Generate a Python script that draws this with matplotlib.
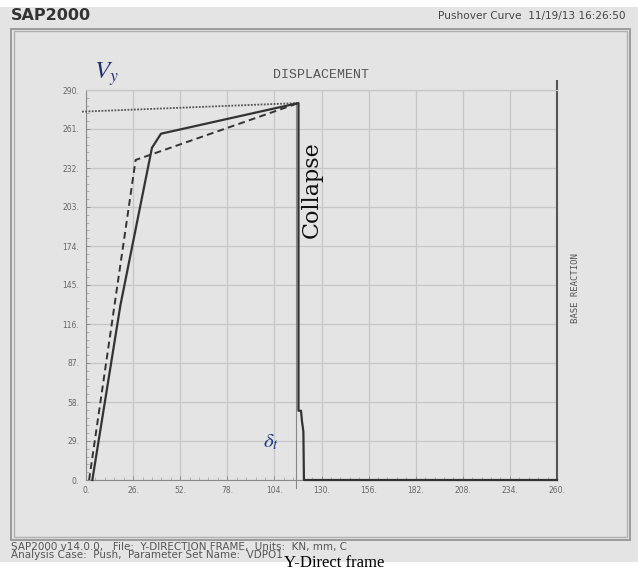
import matplotlib
matplotlib.use("Agg")
import matplotlib.pyplot as plt
from matplotlib.patches import Rectangle
from matplotlib.ticker import AutoMinorLocator

# ---- pushover curve data (displacement in mm, base reaction in KN) ----
solid_x = [3.5, 19.0, 36.4, 41.4, 117.3, 117.3, 118.7, 119.2, 120.0, 120.3, 260.0]
solid_y = [0.0, 130.0, 247.0, 257.5, 280.3, 51.5, 51.5, 44.0, 36.0, 0.0, 0.0]

bilinear_x = [1.7, 27.4, 117.3]
bilinear_y = [0.0, 238.0, 280.3]

yield_line_x = [-2.2, 117.3]
yield_line_y = [273.9, 280.3]

target_disp = 115.9

x_ticks = [0, 26, 52, 78, 104, 130, 156, 182, 208, 234, 260]
y_ticks = [0, 29, 58, 87, 116, 145, 174, 203, 232, 261, 290]
x_labels = [f"{v}." for v in x_ticks]
y_labels = [f"{v}." for v in y_ticks]

W, H = 638, 571
BG = "#e4e4e4"

fig = plt.figure(figsize=(W / 100, H / 100), dpi=100)
fig.patch.set_facecolor("white")


def fx(x):
    return x / W


def fy(y):
    return 1 - y / H


# window background and frame
fig.add_artist(Rectangle((0, fy(562)), 1, fy(7) - fy(562), transform=fig.transFigure,
                         facecolor=BG, edgecolor="none", zorder=0))
fig.add_artist(Rectangle((fx(10.5), fy(540)), fx(630) - fx(10.5), fy(28.5) - fy(540),
                         transform=fig.transFigure, facecolor="none",
                         edgecolor="#9c9c9c", lw=1.4, zorder=1))
fig.add_artist(Rectangle((fx(13.5), fy(537)), fx(627) - fx(13.5), fy(31.5) - fy(537),
                         transform=fig.transFigure, facecolor="none",
                         edgecolor="#b0b0b0", lw=1.0, zorder=1))

# header and footer text
fig.text(fx(11), fy(16), "SAP2000", fontsize=11.5, fontweight="bold",
         family="DejaVu Sans", color="#333333", va="center", ha="left")
fig.text(fx(626), fy(16), "Pushover Curve  11/19/13 16:26:50", fontsize=7.6,
         family="DejaVu Sans", color="#444444", va="center", ha="right")
fig.text(fx(11), fy(547), "SAP2000 v14.0.0,   File:  Y-DIRECTION FRAME,  Units:  KN, mm, C",
         fontsize=7.5, family="DejaVu Sans", color="#555555", va="center", ha="left")
fig.text(fx(11), fy(555.5), "Analysis Case:  Push,  Parameter Set Name:  VDPO1",
         fontsize=7.5, family="DejaVu Sans", color="#555555", va="center", ha="left")
fig.text(fx(334), fy(571), "Y-Direct frame", fontsize=12, family="Liberation Serif",
         color="black", va="bottom", ha="center")

# plot area
ax = fig.add_axes([fx(86), fy(480), fx(557) - fx(86), fy(90) - fy(480)])
ax.set_facecolor(BG)
ax.set_xlim(0, 260)
ax.set_ylim(0, 290)

ax.set_xticks(x_ticks)
ax.set_xticklabels(x_labels)
ax.set_yticks(y_ticks)
ax.set_yticklabels(y_labels)
ax.xaxis.set_minor_locator(AutoMinorLocator(5))
ax.yaxis.set_minor_locator(AutoMinorLocator(5))
ax.tick_params(axis="both", which="major", direction="in", length=3, width=0.6,
               color="#888888", labelsize=5.5, labelcolor="#666666")
ax.tick_params(axis="both", which="minor", direction="in", length=2.2, width=0.5,
               color="#999999")
ax.tick_params(axis="x", pad=4)
ax.tick_params(axis="y", pad=5)
ax.grid(True, which="major", color="#c6c6c6", lw=0.9)
ax.set_axisbelow(True)

for side in ("left", "bottom"):
    ax.spines[side].set_color("#8a8a8a")
    ax.spines[side].set_linewidth(0.8)
ax.spines["top"].set_color("#c6c6c6")
ax.spines["top"].set_linewidth(0.9)
ax.spines["right"].set_color("#555555")
ax.spines["right"].set_linewidth(1.5)
ax.plot([260, 260], [290, 297.5], color="#555555", lw=1.5, clip_on=False,
        solid_capstyle="butt")

# curves
ax.plot(yield_line_x, yield_line_y, color="#555555", lw=1.3, linestyle=(0, (1, 0.8)),
        clip_on=False, zorder=3)
ax.plot(bilinear_x, bilinear_y, color="#333333", lw=1.4, linestyle=(0, (3.5, 2.2)),
        zorder=4)
ax.plot([target_disp, target_disp], [280.0, -6.0], color="#888888", lw=0.8,
        clip_on=False, zorder=3)
ax.plot(solid_x, solid_y, color="#333333", lw=1.6, zorder=5, clip_on=False)

# annotations
ax.text(0.5, 1.0 + 15 / 390, "DISPLACEMENT", transform=ax.transAxes, fontsize=9.5,
        family="Liberation Mono", color="#555555", ha="center", va="center")
fig.text(fx(576), fy(288), "BASE REACTION", rotation=90, fontsize=6.5,
         family="DejaVu Sans Mono", color="#555555", ha="center", va="center")
fig.text(fx(312), fy(190), "Collapse", rotation=90, fontsize=16,
         family="DejaVu Serif", color="#111111", ha="center", va="center")
fig.text(fx(106), fy(74), r"$V_y$", fontsize=18, color="#1f2f6e",
         ha="center", va="center", math_fontfamily="stix")
fig.text(fx(271), fy(442), r"$\delta_t$", fontsize=15, color="#1f3a80",
         ha="center", va="center", math_fontfamily="stix")

fig.savefig("out.png", dpi=100, facecolor=fig.get_facecolor())
